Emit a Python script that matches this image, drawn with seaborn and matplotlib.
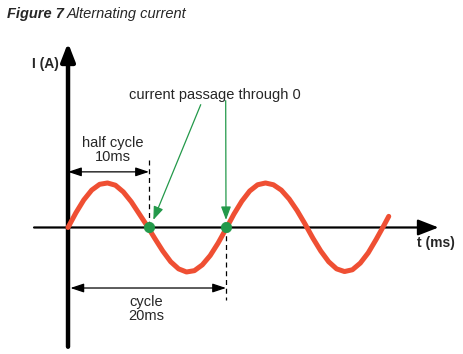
import numpy as np
import pandas as pd
import matplotlib
matplotlib.use("Agg")
import matplotlib.pyplot as plt
import seaborn as sns

# ---------------------------------------------
# Data (time in ms, current in peak units)
# ---------------------------------------------
t_ms = [0, 1, 2, 3, 4, 5, 6, 7, 8, 9, 10, 11, 12, 13, 14, 15, 16, 17, 18, 19, 20,
        21, 22, 23, 24, 25, 26, 27, 28, 29, 30, 31, 32, 33, 34, 35, 36, 37, 38, 39,
        40, 40.6]
current = [0.00, 0.33, 0.62, 0.84, 0.97, 1.00, 0.95, 0.80, 0.58, 0.31, 0.04,
           -0.25, -0.53, -0.77, -0.93, -1.00, -0.97, -0.84, -0.63, -0.35, -0.03,
           0.30, 0.59, 0.82, 0.96, 1.00, 0.96, 0.84, 0.64, 0.38, 0.08,
           -0.24, -0.53, -0.77, -0.93, -0.99, -0.95, -0.80, -0.57, -0.27, 0.05, 0.25]

zero_t = [10.25, 20.0]        # marked passages through 0
zero_i = [0.0, 0.0]
half_cycle_end = 10.25
cycle_end = 20.0

title_bold = "Figure 7"
title_rest = "Alternating current"
y_label = "I (A)"
x_label = "t (ms)"
note_zero = "current passage through 0"
note_half = "half cycle\n10ms"
note_cycle = "cycle\n20ms"

wave = pd.DataFrame({"t": t_ms, "i": current})
zeros = pd.DataFrame({"t": zero_t, "i": zero_i})

# ---------------------------------------------
# Figure
# ---------------------------------------------
sns.set_style("white")
plt.rcParams["font.family"] = ["Liberation Sans", "DejaVu Sans"]

fig = plt.figure(figsize=(4.63, 3.54), dpi=100)
ax = fig.add_axes([0, 0, 1, 1])
ax.set_xlim(-8.61, 50.0)
ax.set_ylim(-2.843, 5.112)
ax.axis("off")

RED = "#ef4f33"
GREEN = "#23994a"

# axes with arrow heads
ax.annotate("", xy=(46.9, 0), xytext=(-4.3, 0),
            arrowprops=dict(arrowstyle="-|>,head_length=0.9,head_width=0.35",
                            color="black", lw=1.6, mutation_scale=14,
                            shrinkA=0, shrinkB=0), zorder=2)
ax.annotate("", xy=(0, 4.15), xytext=(0, -2.68),
            arrowprops=dict(arrowstyle="-|>,head_length=0.9,head_width=0.35",
                            color="black", lw=3.2, mutation_scale=12,
                            shrinkA=0, shrinkB=0), zorder=2)

# the alternating current
sns.lineplot(data=wave, x="t", y="i", ax=ax, color=RED, lw=3.6,
             solid_capstyle="round", zorder=3, legend=False)
sns.scatterplot(data=zeros, x="t", y="i", ax=ax, color=GREEN, s=55,
                edgecolor=GREEN, zorder=5, legend=False)

# half cycle
ax.plot([half_cycle_end, half_cycle_end], [1.52, 0.03], color="black",
        lw=0.9, ls=(0, (4, 3)), zorder=1)
ax.annotate("", xy=(half_cycle_end, 1.25), xytext=(0, 1.25),
            arrowprops=dict(arrowstyle="<|-|>,head_length=0.9,head_width=0.3",
                            color="black", lw=0.9, mutation_scale=9,
                            shrinkA=0, shrinkB=0))
ax.text(half_cycle_end / 2 + 0.6, 1.74, note_half, ha="center", va="center",
        fontsize=10.5, linespacing=1.0)

# full cycle
ax.plot([cycle_end, cycle_end], [0, -1.63], color="black",
        lw=0.9, ls=(0, (4, 3)), zorder=1)
ax.annotate("", xy=(cycle_end, -1.36), xytext=(0.3, -1.36),
            arrowprops=dict(arrowstyle="<|-|>,head_length=0.9,head_width=0.3",
                            color="black", lw=0.9, mutation_scale=9,
                            shrinkA=0, shrinkB=0))
ax.text(cycle_end / 2 - 0.1, -1.84, note_cycle, ha="center", va="center",
        fontsize=10.5, linespacing=1.0)

# passage through zero
ax.text(18.6, 2.98, note_zero, ha="center", va="center", fontsize=10.5)
ax.annotate("", xy=(10.8, 0.17), xytext=(16.8, 2.76),
            arrowprops=dict(arrowstyle="-|>,head_length=0.8,head_width=0.3",
                            color=GREEN, lw=0.9, mutation_scale=10,
                            shrinkA=0, shrinkB=0))
ax.annotate("", xy=(20.0, 0.17), xytext=(19.96, 2.85),
            arrowprops=dict(arrowstyle="-|>,head_length=0.8,head_width=0.3",
                            color=GREEN, lw=0.9, mutation_scale=10,
                            shrinkA=0, shrinkB=0))

# axis labels
ax.text(-2.85, 3.67, y_label, ha="center", va="center", fontsize=10,
        fontweight="bold")
ax.text(46.6, -0.35, x_label, ha="center", va="center", fontsize=10,
        fontweight="bold")

# caption
fig.text(7 / 463, 1 - 14 / 354, title_bold, ha="left", va="center",
         fontsize=10.5, fontweight="bold", fontstyle="italic")
fig.text(67 / 463, 1 - 14 / 354, title_rest, ha="left", va="center",
         fontsize=10.5, fontstyle="italic")

fig.savefig("out.png", dpi=100)
